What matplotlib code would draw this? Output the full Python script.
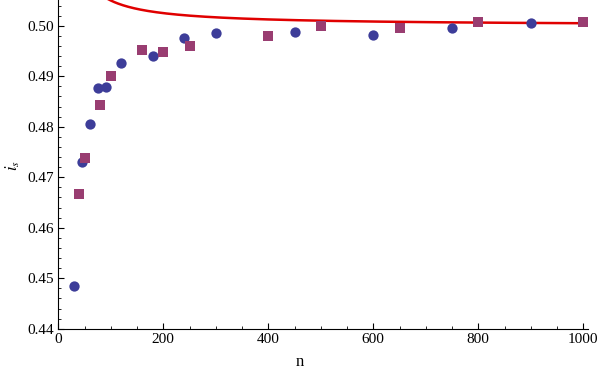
import numpy as np
import matplotlib.pyplot as plt
from matplotlib.ticker import MultipleLocator

# blue circles
n_circ = [30, 45, 60, 75, 90, 120, 180, 240, 300, 450, 600, 750, 900]
i_circ = [0.4484, 0.4730, 0.4805, 0.4876, 0.4879, 0.49255, 0.4941, 0.4975,
          0.4985, 0.4987, 0.4981, 0.4995, 0.5005]

# purple squares
n_sq = [40, 50, 80, 100, 160, 200, 250, 400, 500, 650, 800, 1000]
i_sq = [0.4666, 0.4739, 0.4844, 0.4901, 0.4951, 0.4949, 0.4959, 0.4979,
        0.4999, 0.4995, 0.5007, 0.5007]

x_ticks = [0, 200, 400, 600, 800, 1000]
y_ticks = [0.44, 0.45, 0.46, 0.47, 0.48, 0.49, 0.50]


def theory(n):
    return 0.5 + 0.5 / n


plt.rcParams['font.family'] = ['Liberation Serif', 'DejaVu Serif']
plt.rcParams['mathtext.fontset'] = 'stix'

fig = plt.figure(figsize=(6, 3.72), dpi=100)
ax = fig.add_axes([0.0972, 0.1164, 0.8828, 0.8836])

nn = np.linspace(60, 1000, 400)
ax.plot(nn, theory(nn), color='#E00000', lw=1.8, zorder=1)

ax.scatter(n_circ, i_circ, s=55, marker='o', color='#3D3D99', zorder=3, linewidths=0)
ax.scatter(n_sq, i_sq, s=45, marker='s', color='#993D71', zorder=3, linewidths=0)

ax.set_xlim(0, 1009)
ax.set_ylim(0.44, 0.5051)
ax.set_xticks(x_ticks)
ax.set_yticks(y_ticks)
ax.set_xticklabels([str(t) for t in x_ticks])
ax.set_yticklabels(['%.2f' % t for t in y_ticks])
ax.xaxis.set_minor_locator(MultipleLocator(50))
ax.yaxis.set_minor_locator(MultipleLocator(0.002))
ax.tick_params(which='major', direction='in', length=4, width=0.8, labelsize=11, pad=3)
ax.tick_params(which='minor', direction='in', length=2, width=0.6)

for s in ['top', 'right']:
    ax.spines[s].set_visible(False)
for s in ['left', 'bottom']:
    ax.spines[s].set_linewidth(0.8)

fig.text(0.5, 0.027, 'n', ha='center', va='center', fontsize=12)
fig.text(0.022, 0.555, r'$i_s$', ha='center', va='center', fontsize=12, rotation=90)

fig.savefig('out.png', dpi=100)
